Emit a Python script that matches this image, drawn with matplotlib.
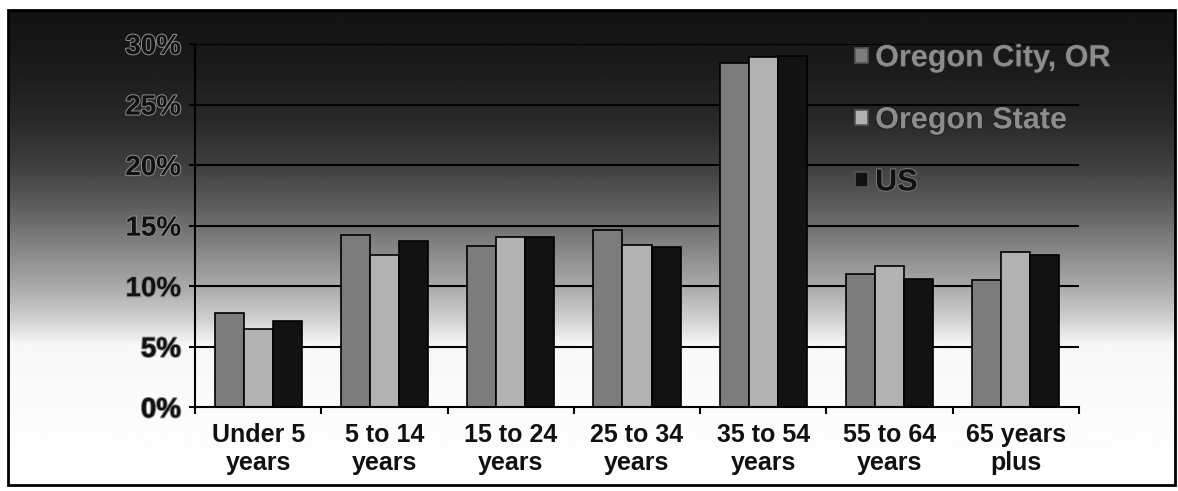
import numpy as np
import matplotlib
matplotlib.use("Agg")
import matplotlib.pyplot as plt
import matplotlib.patheffects as pe
from matplotlib.patches import Rectangle

categories = ["Under 5\nyears", "5 to 14\nyears", "15 to 24\nyears", "25 to 34\nyears",
              "35 to 54\nyears", "55 to 64\nyears", "65 years\nplus"]
oregon_city = [7.8, 14.2, 13.3, 14.6, 28.4, 11.0, 10.5]
oregon_state = [6.5, 12.6, 14.1, 13.4, 28.9, 11.7, 12.8]
us = [7.1, 13.7, 14.1, 13.25, 29.0, 10.6, 12.6]
series_names = ["Oregon City, OR", "Oregon State", "US"]
yticks = [0, 5, 10, 15, 20, 25, 30]
ytick_labels = ["0%", "5%", "10%", "15%", "20%", "25%", "30%"]

W, H = 1178, 491
fig = plt.figure(figsize=(W / 100, H / 100), dpi=100)
fig.patch.set_facecolor("white")

# background gradient (chart area)
bg = fig.add_axes([0, 0, 1, 1], zorder=0)
bg.set_xlim(0, W)
bg.set_ylim(H, 0)
bg.axis("off")
ys = np.arange(10, 486)
gy = np.interp(ys, [10, 60, 120, 170, 210, 250, 290, 320, 345, 486],
               [0.07, 0.10, 0.16, 0.26, 0.38, 0.53, 0.68, 0.82, 0.97, 1.0])
grad = np.tile(gy[:, None], (1, 4))
bg.imshow(grad, extent=[8, 1175, 485, 10], aspect="auto", cmap="gray",
          vmin=0, vmax=1, interpolation="bilinear")
bg.add_patch(Rectangle((8, 10), 1167, 475, fill=False, edgecolor="black", lw=2))

ax = fig.add_axes([195 / W, (H - 407.3) / H, (1079 - 195) / W, (407.3 - 44) / H], zorder=1)
ax.patch.set_alpha(0)

x = np.arange(len(categories))
w = 0.23
colors = ["#7c7c7c", "#b2b2b2", "#121212"]
bars = []
for i, (vals, col, name) in enumerate(zip([oregon_city, oregon_state, us], colors, series_names)):
    b = ax.bar(x + (i - 1) * w, vals, width=w, color=col, edgecolor="black",
               linewidth=1.2, label=name, zorder=3)
    bars.append(b)

ax.set_xlim(-0.5, len(categories) - 0.5)
ax.set_ylim(0, 30)
for yv in yticks[1:]:
    ax.axhline(yv, color="black", lw=1.5, zorder=1)

for s in ["top", "right"]:
    ax.spines[s].set_visible(False)
for s in ["left", "bottom"]:
    ax.spines[s].set_linewidth(1.5)
    ax.spines[s].set_zorder(4)

ax.set_yticks(yticks)
ax.set_yticklabels(ytick_labels)
ax.tick_params(axis="y", length=4, width=1.5, pad=6, labelsize=20)
ax.set_xticks(np.arange(-0.5, len(categories)), minor=False)
ax.set_xticklabels([])
ax.set_xticks(x, minor=True)
ax.set_xticklabels(categories, minor=True)
ax.tick_params(axis="x", which="major", length=5, width=1.5)
ax.tick_params(axis="x", which="minor", length=0, pad=11, labelsize=18)

for lab in ax.get_yticklabels():
    lab.set_fontfamily("Liberation Sans")
    lab.set_fontweight("bold")
    lab.set_color("#111111")
    lab.set_path_effects([pe.Stroke(linewidth=1.5, foreground="#8a8a8a"), pe.Normal()])
for lab in ax.get_xticklabels(minor=True):
    lab.set_fontfamily("Liberation Sans")
    lab.set_fontweight("bold")
    lab.set_color("#111111")
    lab.set_linespacing(1.25)

leg = fig.legend(handles=bars, labels=series_names, loc="upper left",
                 bbox_to_anchor=(840 / W, 1 - 28 / H), frameon=False,
                 prop={"family": "Liberation Sans", "weight": "bold", "size": 22},
                 handlelength=0.4, handleheight=0.4, handletextpad=0.25,
                 labelspacing=1.05, borderpad=0)
txt_cols = ["#8c8c8c", "#8c8c8c", "#111111"]
stroke_cols = ["#222222", "#222222", "#777777"]
for t, c, sc in zip(leg.get_texts(), txt_cols, stroke_cols):
    t.set_color(c)
    t.set_path_effects([pe.Stroke(linewidth=1.5, foreground=sc), pe.Normal()])
for h in leg.legend_handles:
    h.set_edgecolor("#555555")

fig.savefig("out.png", dpi=100)
